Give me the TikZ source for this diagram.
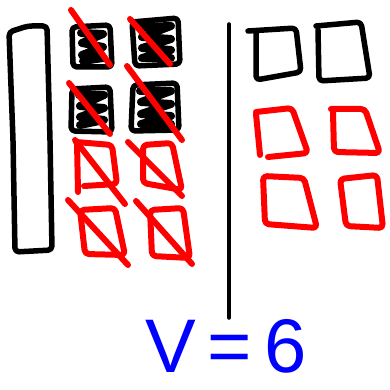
\documentclass[tikz,border=0pt]{standalone}
\usepackage{fontspec}
\setmainfont{Liberation Sans}
\begin{document}
\begin{tikzpicture}[x=1pt,y=-1pt,
  blk/.style={draw=black,line width=5.5pt,line cap=round,line join=round,rounded corners=4pt},
  redsq/.style={draw=red,line width=6pt,line cap=round,line join=round,rounded corners=4pt},
  slash/.style={draw=red,line width=6pt,line cap=round},
  scrib/.style={draw=black,line width=8pt,line cap=round,line join=round},
  divider/.style={draw=black,line width=3.5pt,line cap=round}]
\useasboundingbox (0,0) rectangle (390,390);
% rod
\draw[blk] (9,32) -- (28,26) -- (47,26) -- (50,140) -- (52,250) -- (15,252) -- (13,140) -- cycle;
% black crossed squares
\draw[blk] (72,27) -- (110,25) -- (112,67) -- (73,67) -- cycle;
\draw[scrib] (81,33) -- (103,34) -- (82,43) -- (103,47) -- (82,55) -- (103,58) -- (83,61);
\draw[blk] (132,22) -- (178,18) -- (180,64) -- (135,66) -- cycle;
\draw[scrib] (141,27) -- (171,26) -- (142,37) -- (171,39) -- (142,48) -- (171,50) -- (142,58) -- (171,58);
\draw[blk] (72,89) -- (110,87) -- (112,132) -- (71,131) -- cycle;
\draw[scrib] (79,95) -- (104,95) -- (80,106) -- (104,108) -- (80,117) -- (104,120) -- (80,125);
\draw[blk] (133,85) -- (177,83) -- (179,130) -- (131,131) -- cycle;
\draw[scrib] (140,91) -- (171,91) -- (141,102) -- (171,104) -- (141,114) -- (171,116) -- (141,124) -- (171,124);
\draw[slash] (71,10) -- (110,65);
\draw[slash] (130,19) -- (170,64);
\draw[slash] (69,83) -- (110,134);
\draw[slash] (127,66) -- (182,140);
% red crossed squares
\draw[redsq] (76,142) -- (112,145) -- (117,184) -- (84,186);
\draw[redsq] (77,142) -- (78,192);
\draw[redsq] (143,145) -- (172,143) -- (182,190) -- (143,183) -- cycle;
\draw[redsq] (80,210) -- (115,208) -- (125,255) -- (85,254) -- cycle;
\draw[redsq] (150,210) -- (183,208) -- (190,258) -- (152,256) -- cycle;
\draw[slash] (75,140) -- (125,204);
\draw[slash] (128,142) -- (182,196);
\draw[slash] (68,200) -- (128,265);
\draw[slash] (136,201) -- (192,264);
% divider
\draw[divider] (229,24) -- (229,318);
% right black squares
\draw[blk] (248,31) -- (296,28) -- (301,72) -- (256,80) -- (256,32);
\draw[blk] (316,26) -- (361,22) -- (370,78) -- (319,81) -- (318,30);
% right red squares
\draw[redsq] (256,112) -- (292,108) -- (308,153) -- (268,157);
\draw[redsq] (256,114) -- (260,155);
\draw[redsq] (331,109) -- (365,109) -- (380,153) -- (334,152) -- (333,112);
\draw[redsq] (263,176) -- (304,178) -- (317,228) -- (265,224) -- cycle;
\draw[redsq] (340,179) -- (377,175) -- (383,228) -- (346,226) -- cycle;
% label
\node[text=blue,font=\fontsize{76}{76}\selectfont,anchor=base,inner sep=0pt] (label) at (226,372) {V\hspace{12pt}=\hspace{12pt}6};
\end{tikzpicture}
\end{document}
